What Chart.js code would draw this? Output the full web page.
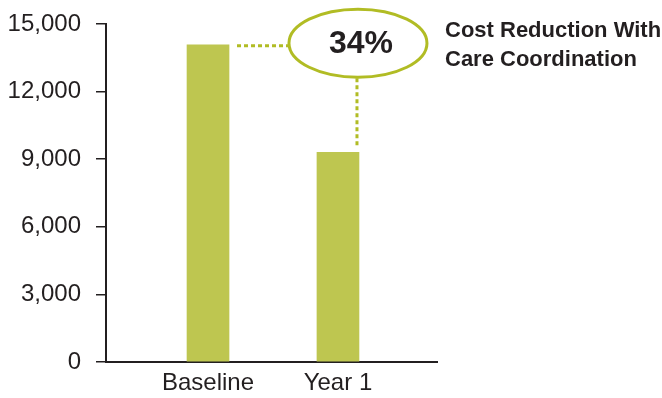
<!DOCTYPE html>
<html>
<head>
<meta charset="utf-8">
<script src="https://cdn.jsdelivr.net/npm/chart.js@4"></script>
<style>
    body { margin: 0; background: #fff; }
    #wrap { width: 662px; height: 398px; position: relative; }
</style>
</head>
<body>
<div id="wrap"><canvas id="chart"></canvas></div>
<script>
const categories = ['Baseline', 'Year 1'];
const costValues = [14080, 9300];
const yTicks = [0, 3000, 6000, 9000, 12000, 15000];
const reductionLabel = '34%';
const noteLines = ['Cost Reduction With', 'Care Coordination'];

const barGreen = '#bec650';
const lineGreen = '#b1bc24';
const ink = '#231f20';

Chart.defaults.font.family = "'Liberation Sans', Arial, sans-serif";
Chart.defaults.color = ink;

// ellipse + dotted connectors + side note
const calloutPlugin = {
    id: 'callout',
    afterDatasetsDraw(chart) {
        const ctx = chart.ctx;
        const meta = chart.getDatasetMeta(0);
        const b0 = meta.data[0];
        const b1 = meta.data[1];
        const cx = b1.x + b1.width / 2 - 1;
        const cy = b0.y - 1.5;
        const rx = 69, ry = 34;

        ctx.save();
        ctx.strokeStyle = lineGreen;
        ctx.lineWidth = 3;
        ctx.setLineDash([4, 3]);
        ctx.beginPath();
        ctx.moveTo(b0.x + b0.width / 2 + 8, b0.y + 1);
        ctx.lineTo(cx - rx, b0.y + 1);
        ctx.stroke();
        ctx.beginPath();
        ctx.moveTo(cx - 1, cy + ry + 1);
        ctx.lineTo(cx - 1, b1.y - 7);
        ctx.stroke();

        ctx.setLineDash([]);
        ctx.lineWidth = 3;
        ctx.fillStyle = '#fff';
        ctx.beginPath();
        ctx.ellipse(cx, cy, rx, ry, 0, 0, Math.PI * 2);
        ctx.fill();
        ctx.stroke();

        ctx.fillStyle = ink;
        ctx.font = "bold 32px 'Liberation Sans', Arial, sans-serif";
        ctx.textAlign = 'center';
        ctx.textBaseline = 'middle';
        ctx.fillText(reductionLabel, cx + 3, cy + 1);

        ctx.font = "bold 22px 'Liberation Sans', Arial, sans-serif";
        ctx.textAlign = 'left';
        ctx.textBaseline = 'alphabetic';
        noteLines.forEach((line, i) => {
            ctx.fillText(line, chart.chartArea.right + 8, chart.chartArea.top + 13 + i * 29);
        });
        ctx.restore();
    }
};

const ctx = document.getElementById('chart');
const barChart = new Chart(ctx, {
    type: 'bar',
    data: {
        datasets: [{
            data: costValues.map((v, i) => ({x: i, y: v})),
            backgroundColor: barGreen,
            borderWidth: 0,
            barThickness: 42
        }]
    },
    options: {
        responsive: true,
        maintainAspectRatio: false,
        animation: false,
        layout: {
            padding: {top: 24, right: 225, bottom: 0, left: 8}
        },
        plugins: {
            legend: {display: false},
            tooltip: {enabled: false}
        },
        scales: {
            x: {
                type: 'linear',
                offset: false,
                min: -0.785,
                max: 1.762,
                afterBuildTicks: (scale) => {
                    scale.ticks = categories.map((c, i) => ({value: i}));
                },
                afterFit: (scale) => {
                    scale.height = 36;
                },
                ticks: {
                    padding: 7,
                    font: {size: 24},
                    color: ink,
                    callback: (v) => categories[v]
                },
                grid: {display: false, drawTicks: false},
                border: {display: true, color: ink, width: 2}
            },
            y: {
                min: 0,
                max: 15000,
                afterBuildTicks: (scale) => {
                    scale.ticks = yTicks.map(v => ({value: v}));
                },
                afterFit: (scale) => {
                    scale.width = 98;
                    scale.paddingTop = 0;
                    scale.paddingBottom = 0;
                },
                ticks: {
                    padding: 15,
                    font: {size: 24},
                    color: ink
                },
                grid: {
                    drawOnChartArea: false,
                    drawTicks: true,
                    tickLength: 10,
                    color: ink,
                    lineWidth: 1.5
                },
                border: {display: true, color: ink, width: 2}
            }
        }
    },
    plugins: [calloutPlugin]
});
</script>
</body>
</html>
